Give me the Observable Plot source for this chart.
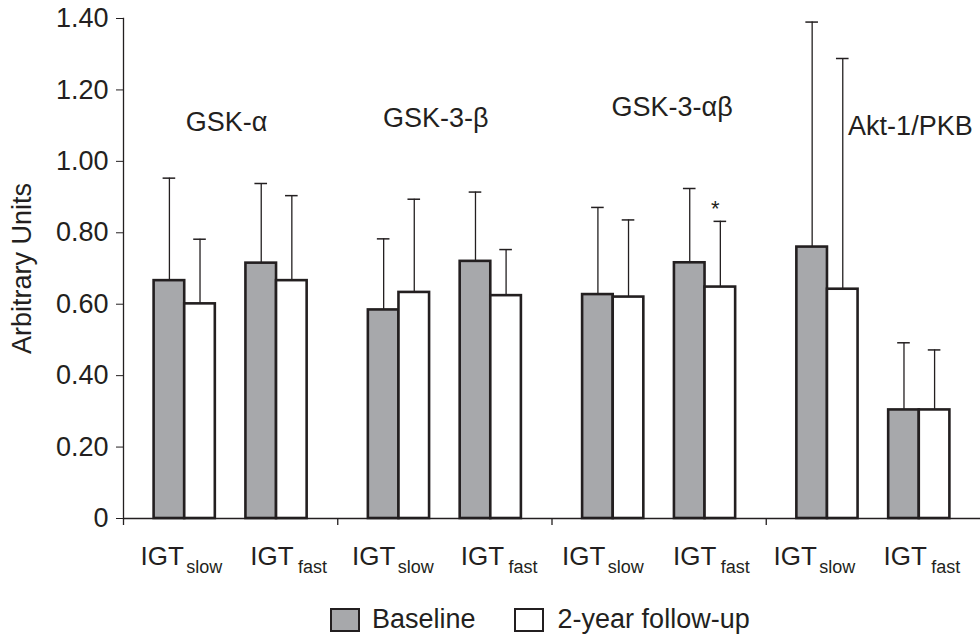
<!DOCTYPE html>
<html><head><meta charset="utf-8">
<script src="https://cdn.jsdelivr.net/npm/d3@7"></script>
<script src="https://cdn.jsdelivr.net/npm/@observablehq/plot@0.6"></script>
<style>
body{margin:0;background:#fff;font-family:"Liberation Sans",Arial,Helvetica,sans-serif;color:#231f20}
#wrap{position:relative;width:980px;height:635px;overflow:hidden}
#legend{position:absolute;left:330px;top:606px;display:flex;align-items:center;font-size:27px;line-height:1;white-space:nowrap}
.sw{width:30px;height:24px;box-sizing:border-box;border:2.5px solid #231f20}
</style></head><body>
<div id="wrap"><div id="chart"></div><div id="legend"></div></div>
<script>
// ---- data ----
const groups = ["GSK-\u03b1", "GSK-3-\u03b2", "GSK-3-\u03b1\u03b2", "Akt-1/PKB"];
const subgroups = ["slow", "fast"];
const series = ["Baseline", "2-year follow-up"];
// order: group x subgroup (slow, fast)
const baselineMean = [0.666, 0.715, 0.584, 0.720, 0.627, 0.716, 0.760, 0.304];
const baselineSD   = [0.287, 0.223, 0.199, 0.194, 0.244, 0.208, 0.630, 0.188];
const followMean   = [0.601, 0.666, 0.633, 0.624, 0.620, 0.648, 0.642, 0.304];
const followSD     = [0.181, 0.238, 0.261, 0.129, 0.216, 0.184, 0.646, 0.168];
const followStar   = [false, false, false, false, false, true, false, false];
const yTicks = [0, 0.2, 0.4, 0.6, 0.8, 1.0, 1.2, 1.4];
const yLabel = "Arbitrary Units";
const subLabelMain = "IGT";

// ---- layout (not data) ----
const W = 980, H = 590, ML = 123, MR = 0, MT = 18, MB = 72;
const ink = "#231f20";
const titleLayout = [{dx: -4, y: 1.086}, {dx: -9, y: 1.096}, {dx: 13, y: 1.128}, {dx: 37, y: 1.074}];
const labelShift = [-3, 13, -5.7, 9.3, -10, 7.3, -12.7, 3.6];        // label centre vs pair centre
const labelParts = {slow: [2.1, 4.5], fast: [4.05, 8.35]};           // IGT end / subscript start vs label centre

const slotKeys = groups.flatMap((g, gi) => [
  `${gi}|edgeL`, `${gi}|slow|0`, `${gi}|slow|1`, `${gi}|gap`, `${gi}|fast|0`, `${gi}|fast|1`, `${gi}|edgeR`
]);
const bw = (W - ML - MR) / slotKeys.length;

const bars = [];
groups.forEach((g, gi) => subgroups.forEach((s, si) => {
  const i = gi * subgroups.length + si;
  bars.push({slot: `${gi}|${s}|0`, series: series[0], mean: baselineMean[i], sd: baselineSD[i], star: false});
  bars.push({slot: `${gi}|${s}|1`, series: series[1], mean: followMean[i], sd: followSD[i], star: followStar[i]});
}));
const upperOf = d => d.mean + d.sd;

const titleMarks = groups.map((g, gi) => Plot.text([g], {
  x: () => `${gi}|gap`, y: () => titleLayout[gi].y, text: d => d,
  dx: titleLayout[gi].dx, lineAnchor: "bottom", fontSize: 27, fill: ink
}));

const subMarks = groups.flatMap((g, gi) => subgroups.flatMap((s, si) => {
  const k = gi * subgroups.length + si;
  const base = -bw / 2 + labelShift[k];
  const row = [{slot: `${gi}|${s}|1`, sub: s}];
  return [
    Plot.text(row, {x: "slot", y: () => 0, text: () => subLabelMain, textAnchor: "end",
      lineAnchor: "bottom", dy: 46, dx: base + labelParts[s][0], fontSize: 26, fill: ink}),
    Plot.text(row, {x: "slot", y: () => 0, text: "sub", textAnchor: "start",
      lineAnchor: "bottom", dy: 54.7, dx: base + labelParts[s][1], fontSize: 18, fill: ink})
  ];
}));

const chart = Plot.plot({
  width: W, height: H, marginLeft: ML, marginRight: MR, marginTop: MT, marginBottom: MB,
  style: {fontFamily: '"Liberation Sans", Arial, Helvetica, sans-serif', color: ink, background: "#fff", overflow: "visible"},
  x: {type: "band", domain: slotKeys, padding: 0, round: false, axis: null},
  y: {domain: [0, 1.4], axis: null},
  color: {domain: series, range: ["#a7a8ab", "#ffffff"]},
  marks: [
    Plot.ruleX(bars, {x: "slot", y1: "mean", y2: upperOf, stroke: ink, strokeWidth: 1.3}),
    Plot.tickY(bars, {x: "slot", y: upperOf, insetLeft: 9, insetRight: 9, stroke: ink, strokeWidth: 1.5}),
    Plot.barY(bars, {x: "slot", y: "mean", fill: "series", stroke: ink, strokeWidth: 2.6}),
    Plot.ruleY([0], {stroke: ink, strokeWidth: 1.3}),
    Plot.frame({anchor: "left", stroke: ink, strokeWidth: 1.3}),
    Plot.ruleX(groups.map((g, gi) => `${gi}|edgeL`), {x: d => d, y1: () => 0, y2: () => 0, insetBottom: -7, dx: -bw / 2, stroke: ink, strokeWidth: 1.3}),
    Plot.axisY({ticks: yTicks, tickSize: 7, tickPadding: 8, fontSize: 27, stroke: ink, fill: ink,
      tickFormat: d => d === 0 ? "0" : d.toFixed(2), label: null}),
    Plot.text(bars.filter(d => d.star), {x: "slot", y: upperOf, text: () => "*", lineAnchor: "bottom", dy: -5, dx: -5, fontSize: 22, fill: ink}),
    Plot.text([yLabel], {frameAnchor: "left", text: d => d, rotate: -90, dx: -93, textAnchor: "middle", lineAnchor: "bottom", fontSize: 27, fill: ink}),
    ...titleMarks,
    ...subMarks
  ]
});
document.getElementById("chart").appendChild(chart);

// legend
const legend = document.getElementById("legend");
const fills = ["#a7a8ab", "#ffffff"];
const gaps = [12, 14];
series.forEach((s, i) => {
  const sw = document.createElement("div");
  sw.className = "sw"; sw.style.background = fills[i];
  if (i > 0) sw.style.marginLeft = "38px";
  const t = document.createElement("span");
  t.textContent = s; t.style.marginLeft = gaps[i] + "px";
  legend.appendChild(sw); legend.appendChild(t);
});
</script>
</body></html>
